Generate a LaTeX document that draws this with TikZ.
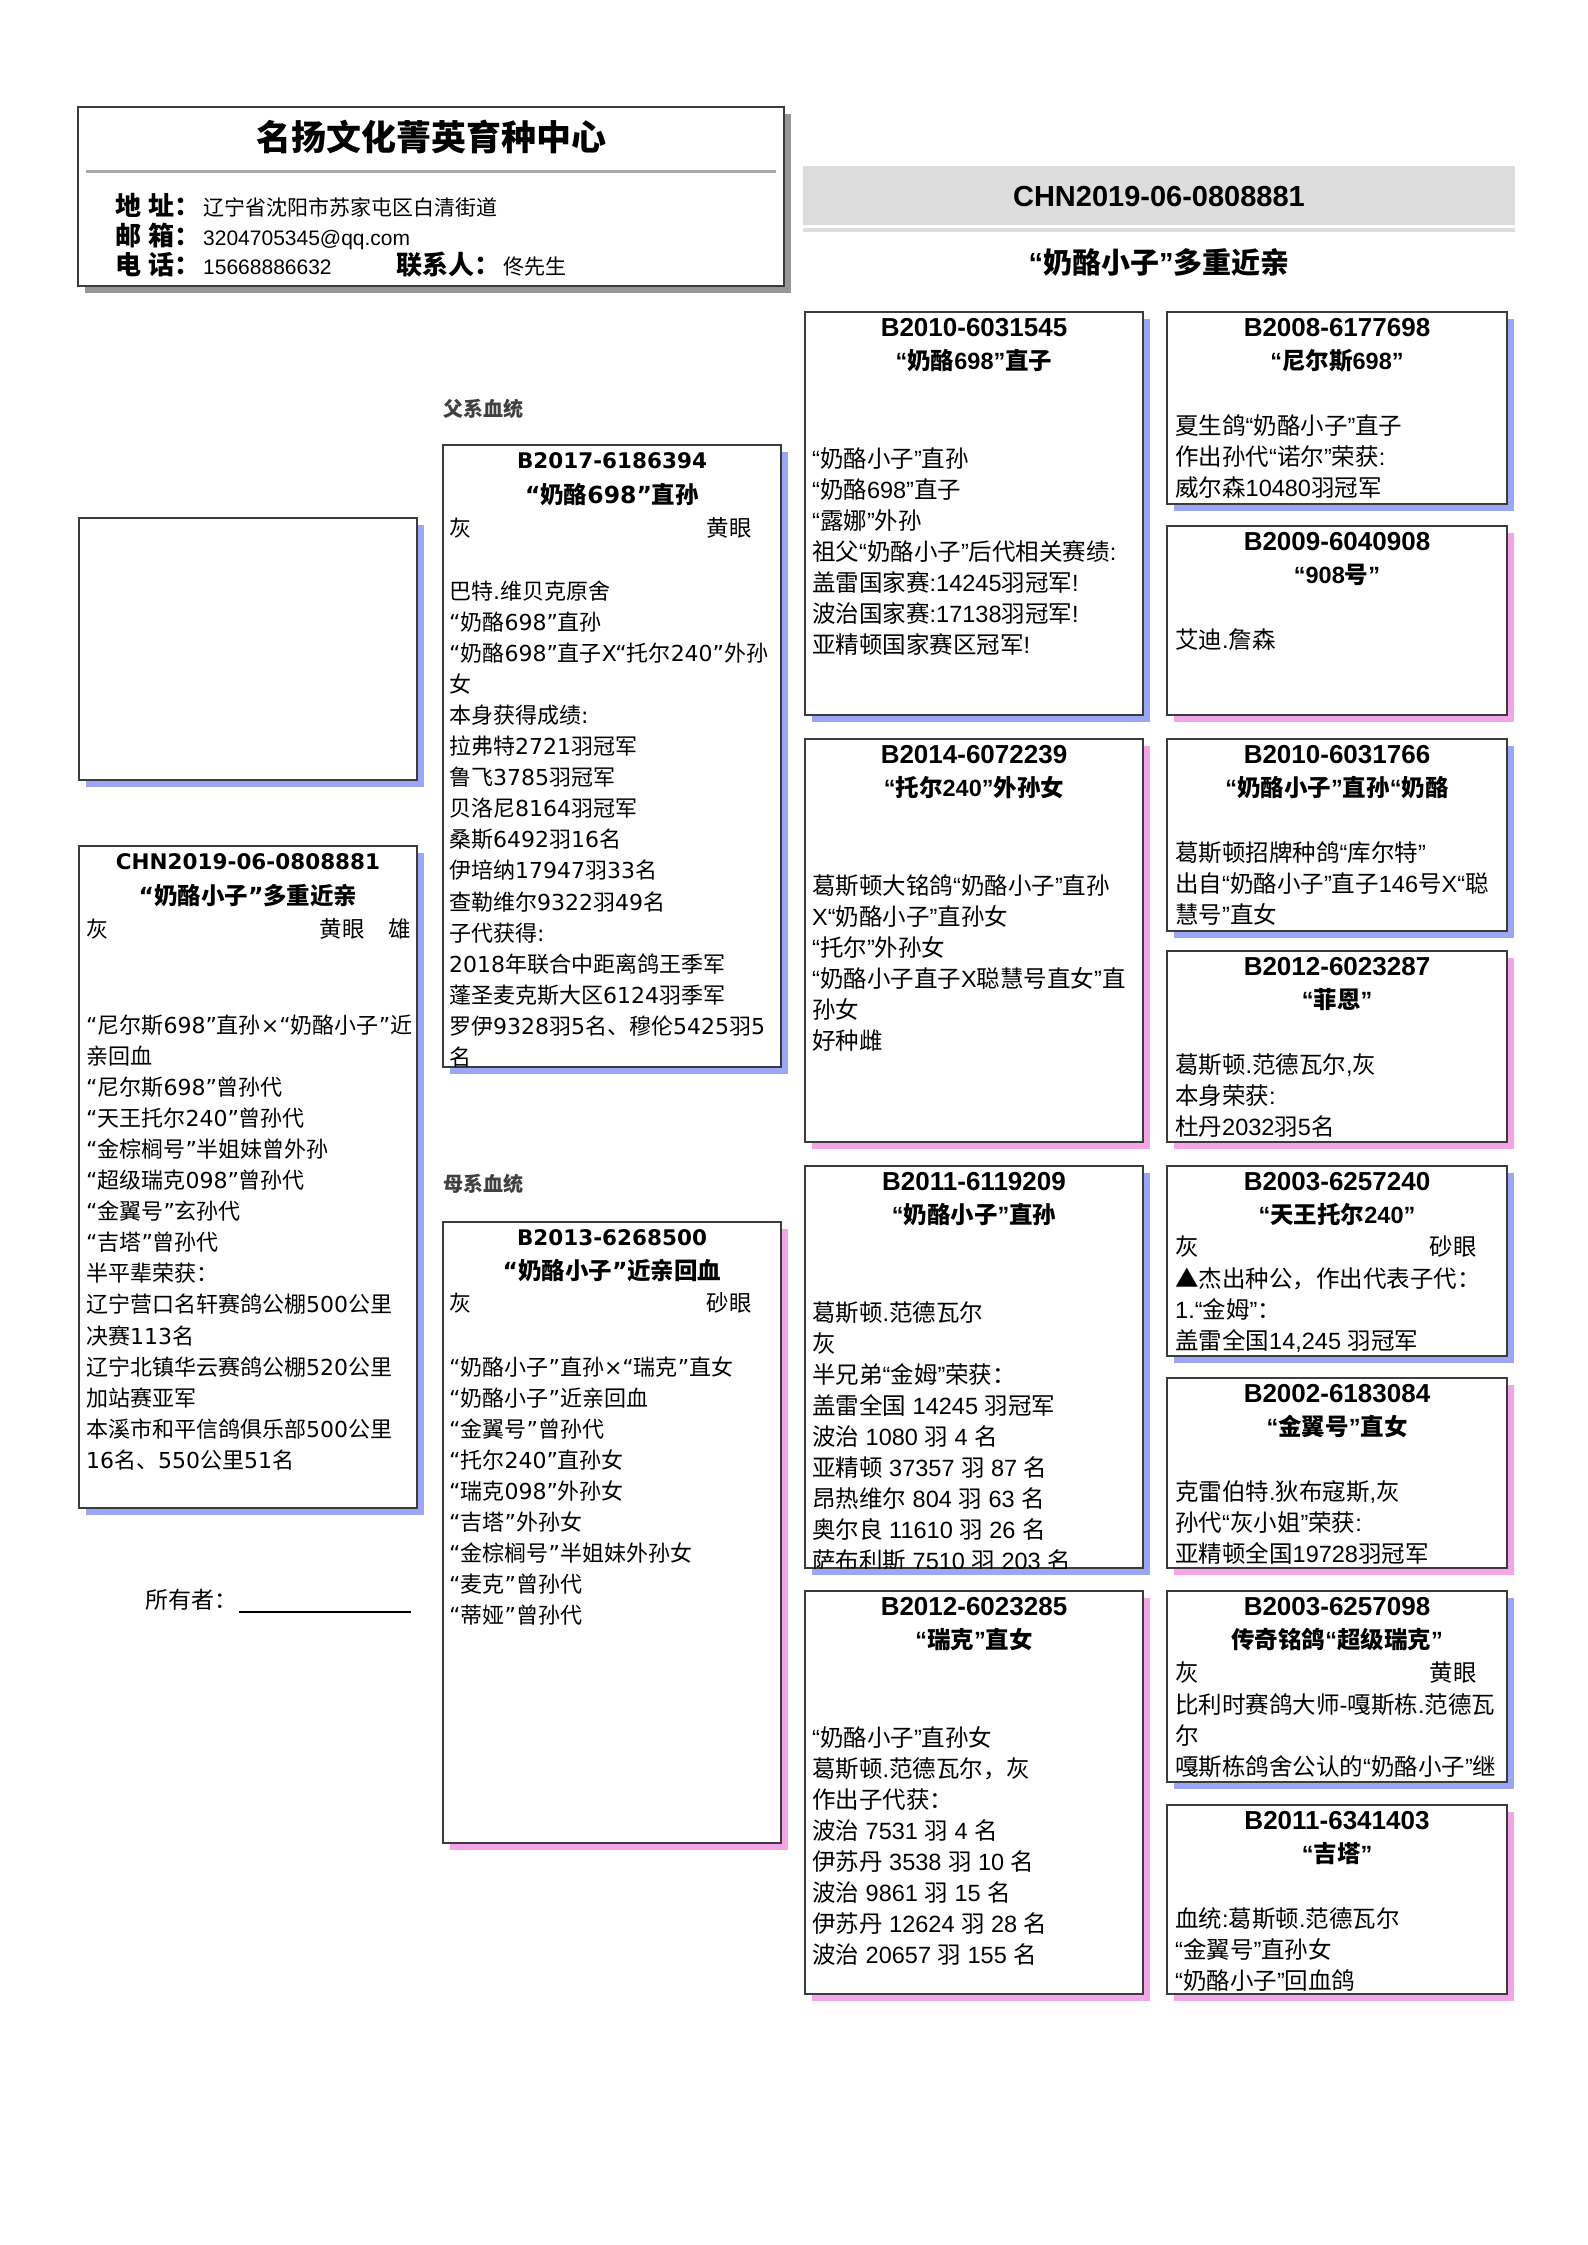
\documentclass[tikz,border=0pt]{standalone}
\usepackage{fontspec}
\setmainfont{Liberation Sans}
\newfontfamily\latA{Liberation Sans}
\newfontfamily\latB{DejaVu Sans}
\newfontfamily\cjkf{Noto Sans CJK SC}
\def\latsel{\latA}
\newcommand\wideL{\def\latsel{\latB}\latB}
\XeTeXinterchartokenstate=1
\newXeTeXintercharclass\CJKcls
\newcount\cjkc
\cjkc="4E00
\loop\XeTeXcharclass\cjkc=\CJKcls\ifnum\cjkc<"9FFF\advance\cjkc by 1\repeat
\cjkc="3000
\loop\XeTeXcharclass\cjkc=\CJKcls\ifnum\cjkc<"303F\advance\cjkc by 1\repeat
\cjkc="FF00
\loop\XeTeXcharclass\cjkc=\CJKcls\ifnum\cjkc<"FFEF\advance\cjkc by 1\repeat
\XeTeXcharclass"25B2=\CJKcls
\XeTeXinterchartoks 0 \CJKcls = {\cjkf}
\XeTeXinterchartoks 4095 \CJKcls = {\cjkf}
\XeTeXinterchartoks \CJKcls 0 = {\latsel}
\XeTeXinterchartoks \CJKcls 4095 = {\latsel}

\definecolor{boxline}{RGB}{60,60,60}
\definecolor{shblue}{RGB}{155,166,245}
\definecolor{shpink}{RGB}{245,164,232}
\definecolor{shgray}{RGB}{150,150,150}
\definecolor{bandgray}{RGB}{221,221,221}
\definecolor{sepgray}{RGB}{170,170,170}
\definecolor{labgray}{RGB}{64,64,64}

\tikzset{
  boxst/.style={draw=boxline, line width=1.5pt, fill=white, inner sep=0pt, outer sep=0pt, anchor=north west},
  idA/.style={font=\bfseries\fontsize{26}{30}\selectfont, anchor=base, inner sep=0pt},
  nmA/.style={font=\bfseries\fontsize{23.5}{28}\selectfont, anchor=base, inner sep=0pt},
  txA/.style={font=\fontsize{23.5}{28}\selectfont, anchor=base west, inner sep=0pt},
  txAr/.style={font=\fontsize{23.5}{28}\selectfont, anchor=base east, inner sep=0pt},
  idB/.style={font=\wideL\bfseries\fontsize{21.5}{26}\selectfont, anchor=base, inner sep=0pt},
  nmB/.style={font=\wideL\bfseries\fontsize{23.5}{28}\selectfont, anchor=base, inner sep=0pt},
  txB/.style={font=\wideL\fontsize{22}{28}\selectfont, anchor=base west, inner sep=0pt},
  txBr/.style={font=\wideL\fontsize{22.5}{28}\selectfont, anchor=base east, inner sep=0pt},
  htitle/.style={font=\bfseries\fontsize{35}{40}\selectfont, anchor=base, inner sep=0pt},
  hlab/.style={font=\bfseries\fontsize{26}{30}\selectfont, anchor=base west, inner sep=0pt},
  hval/.style={font=\fontsize{21}{25}\selectfont, anchor=base west, inner sep=0pt},
  bigT/.style={font=\bfseries\fontsize{29}{34}\selectfont, anchor=base, inner sep=0pt},
  seclab/.style={font=\bfseries\fontsize{20}{24}\selectfont, text=labgray, anchor=base west, inner sep=0pt},
  own/.style={font=\fontsize{23}{28}\selectfont, anchor=base west, inner sep=0pt},
  bandst/.style={fill=bandgray, inner sep=0pt, outer sep=0pt, anchor=north west},
}

\newcommand\pedbox[6]{%
  \fill[#6] ({#2+7},{#3+7}) rectangle ({#4+7},{#5+7});
  \node[boxst, minimum width={(#4-#2)*1pt}, minimum height={(#5-#3)*1pt}] (#1) at (#2,#3) {};
}
\newcommand\pedlines[6]{%
  \foreach \lineT [count=\li] in {#6}{%
    \node[#2] (#1-\li) at (#3,{#4+(\li-1)*#5}) {\lineT};
  }%
}
\newcommand\headA[5]{%
  \node[idA] (#1id) at (#2,{#3+24}) {#4};
  \node[nmA] (#1nm) at (#2,{#3+57}) {#5};
}

\begin{document}
\begin{tikzpicture}[x=1pt,y=-1pt]
\useasboundingbox (0,0) rectangle (1587,2245);
\fill[white] (0,0) rectangle (1587,2245);

% ---------- header box ----------
\fill[shgray] (85,114) rectangle (791,293);
\node[boxst, minimum width=706pt, minimum height=179pt] (hdr) at (78,107) {};
\coordinate (sepL) at (86,172);
\coordinate (sepR) at (776,172);
\draw[sepgray, line width=3pt] (sepL) -- (sepR);
\node[htitle] (title) at (431,151) {名扬文化菁英育种中心};
\node[hlab] (lab1) at (115,215) {地 址：};
\node[hval] (val1) at (203,215) {辽宁省沈阳市苏家屯区白清街道};
\node[hlab] (lab2) at (115,245) {邮 箱：};
\node[hval] (val2) at (203,245) {3204705345@qq.com};
\node[hlab] (lab3) at (115,274) {电 话：};
\node[hval] (val3) at (203,274) {15668886632};
\node[hlab] (lab4) at (396,274) {联系人：};
\node[hval] (val4) at (503,274) {佟先生};

% ---------- top right band ----------
\node[bandst, minimum width=712pt, minimum height=59pt] (band) at (803,166) {};
\node[bandst, minimum width=712pt, minimum height=4pt] (band2) at (803,228) {};
\node[bigT] (cid) at (1159,207) {CHN2019-06-0808881};
\node[bigT] (csub) at (1159,273) {“奶酪小子”多重近亲};

% ---------- left column ----------
\pedbox{photo}{79}{518}{417}{780}{shblue}
\pedbox{subj}{79}{846}{417}{1508}{shblue}
\begin{scope}
\clip (79,846) rectangle (417,1508);
\node[idB] (subjid) at (248,869) {CHN2019-06-0808881};
\node[nmB] (subjnm) at (248,904) {“奶酪小子”多重近亲};
\node[txB] (subjc) at (86,937) {灰};
\node[txBr] (subje) at (365,937) {黄眼};
\node[txBr] (subjs) at (411,937) {雄};
\pedlines{subj}{txB}{86}{1033}{31.1}{“尼尔斯698”直孙×“奶酪小子”近, 亲回血, “尼尔斯698”曾孙代, “天王托尔240”曾孙代, “金棕榈号”半姐妹曾外孙, “超级瑞克098”曾孙代, “金翼号”玄孙代, “吉塔”曾孙代, 半平辈荣获：, 辽宁营口名轩赛鸽公棚500公里, 决赛113名, 辽宁北镇华云赛鸽公棚520公里, 加站赛亚军, 本溪市和平信鸽俱乐部500公里, 16名、550公里51名}
\end{scope}
\node[own] (owner) at (145,1608) {所有者：};
\coordinate (ulA) at (239,1612);
\coordinate (ulB) at (411,1612);
\draw[line width=1.2pt] (ulA) -- (ulB);

% ---------- sire ----------
\node[seclab] (patlab) at (443,416) {父系血统};
\pedbox{sire}{443}{445}{781}{1067}{shblue}
\begin{scope}
\clip (443,445) rectangle (781,1067);
\node[idB] (sireid) at (612,468) {B2017-6186394};
\node[nmB] (sirenm) at (612,503) {“奶酪698”直孙};
\node[txB] (sirec) at (449,536) {灰};
\node[txBr] (siree) at (752,536) {黄眼};
\pedlines{sire}{txB}{449}{599}{31.1}{巴特.维贝克原舍, “奶酪698”直孙, “奶酪698”直子X“托尔240”外孙, 女, 本身获得成绩:, 拉弗特2721羽冠军, 鲁飞3785羽冠军, 贝洛尼8164羽冠军, 桑斯6492羽16名, 伊培纳17947羽33名, 查勒维尔9322羽49名, 子代获得:, 2018年联合中距离鸽王季军, 蓬圣麦克斯大区6124羽季军, 罗伊9328羽5名、穆伦5425羽5, 名}
\end{scope}

% ---------- dam ----------
\node[seclab] (matlab) at (443,1191) {母系血统};
\pedbox{dam}{443}{1222}{781}{1843}{shpink}
\begin{scope}
\clip (443,1222) rectangle (781,1843);
\node[idB] (damid) at (612,1245) {B2013-6268500};
\node[nmB] (damnm) at (612,1279) {“奶酪小子”近亲回血};
\node[txB] (damc) at (449,1311) {灰};
\node[txBr] (dame) at (752,1311) {砂眼};
\pedlines{dam}{txB}{449}{1375}{31.1}{“奶酪小子”直孙×“瑞克”直女, “奶酪小子”近亲回血, “金翼号”曾孙代, “托尔240”直孙女, “瑞克098”外孙女, “吉塔”外孙女, “金棕榈号”半姐妹外孙女, “麦克”曾孙代, “蒂娅”曾孙代}
\end{scope}

% ---------- column 3 ----------
\pedbox{c3a}{805}{312}{1143}{715}{shblue}
\begin{scope}
\clip (805,312) rectangle (1143,715);
\headA{c3a}{974}{312}{B2010-6031545}{“奶酪698”直子}
\pedlines{c3a}{txA}{812}{467}{31.1}{“奶酪小子”直孙, “奶酪698”直子, “露娜”外孙, 祖父“奶酪小子”后代相关赛绩:, 盖雷国家赛:14245羽冠军!, 波治国家赛:17138羽冠军!, 亚精顿国家赛区冠军!}
\end{scope}

\pedbox{c3b}{805}{739}{1143}{1142}{shpink}
\begin{scope}
\clip (805,739) rectangle (1143,1142);
\headA{c3b}{974}{739}{B2014-6072239}{“托尔240”外孙女}
\pedlines{c3b}{txA}{812}{894}{31.1}{葛斯顿大铭鸽“奶酪小子”直孙, X“奶酪小子”直孙女, “托尔”外孙女, “奶酪小子直子X聪慧号直女”直, 孙女, 好种雌}
\end{scope}

\pedbox{c3c}{805}{1166}{1143}{1568}{shblue}
\begin{scope}
\clip (805,1166) rectangle (1143,1568);
\headA{c3c}{974}{1166}{B2011-6119209}{“奶酪小子”直孙}
\pedlines{c3c}{txA}{812}{1321}{31.1}{葛斯顿.范德瓦尔, 灰, 半兄弟“金姆”荣获：, 盖雷全国 14245 羽冠军, 波治 1080 羽 4 名, 亚精顿 37357 羽 87 名, 昂热维尔 804 羽 63 名, 奥尔良 11610 羽 26 名, 萨布利斯 7510 羽 203 名}
\end{scope}

\pedbox{c3d}{805}{1591}{1143}{1994}{shpink}
\begin{scope}
\clip (805,1591) rectangle (1143,1994);
\headA{c3d}{974}{1591}{B2012-6023285}{“瑞克”直女}
\pedlines{c3d}{txA}{812}{1746}{31.1}{“奶酪小子”直孙女, 葛斯顿.范德瓦尔，灰, 作出子代获：, 波治 7531 羽 4 名, 伊苏丹 3538 羽 10 名, 波治 9861 羽 15 名, 伊苏丹 12624 羽 28 名, 波治 20657 羽 155 名}
\end{scope}

% ---------- column 4 ----------
\pedbox{c4a}{1167}{312}{1507}{504}{shblue}
\begin{scope}
\clip (1167,312) rectangle (1507,504);
\headA{c4a}{1337}{312}{B2008-6177698}{“尼尔斯698”}
\pedlines{c4a}{txA}{1175}{434}{31.1}{夏生鸽“奶酪小子”直子, 作出孙代“诺尔”荣获:, 威尔森10480羽冠军}
\end{scope}

\pedbox{c4b}{1167}{526}{1507}{715}{shpink}
\begin{scope}
\clip (1167,526) rectangle (1507,715);
\headA{c4b}{1337}{526}{B2009-6040908}{“908号”}
\pedlines{c4b}{txA}{1175}{648}{31.1}{艾迪.詹森}
\end{scope}

\pedbox{c4c}{1167}{739}{1507}{931}{shblue}
\begin{scope}
\clip (1167,739) rectangle (1507,931);
\headA{c4c}{1337}{739}{B2010-6031766}{“奶酪小子”直孙“奶酪}
\pedlines{c4c}{txA}{1175}{861}{31.1}{葛斯顿招牌种鸽“库尔特”, 出自“奶酪小子”直子146号X“聪, 慧号”直女}
\end{scope}

\pedbox{c4d}{1167}{951}{1507}{1142}{shpink}
\begin{scope}
\clip (1167,951) rectangle (1507,1142);
\headA{c4d}{1337}{951}{B2012-6023287}{“菲恩”}
\pedlines{c4d}{txA}{1175}{1073}{31.1}{{葛斯顿.范德瓦尔,灰}, 本身荣获:, 杜丹2032羽5名}
\end{scope}

\pedbox{c4e}{1167}{1166}{1507}{1356}{shblue}
\begin{scope}
\clip (1167,1166) rectangle (1507,1356);
\headA{c4e}{1337}{1166}{B2003-6257240}{“天王托尔240”}
\node[txA] (c4ec) at (1175,1255) {灰};
\node[txAr] (c4ee) at (1477,1255) {砂眼};
\pedlines{c4e}{txA}{1175}{1287}{31.1}{▲杰出种公，作出代表子代：, 1.“金姆”：, {盖雷全国14,245 羽冠军}}
\end{scope}

\pedbox{c4f}{1167}{1378}{1507}{1568}{shpink}
\begin{scope}
\clip (1167,1378) rectangle (1507,1568);
\headA{c4f}{1337}{1378}{B2002-6183084}{“金翼号”直女}
\pedlines{c4f}{txA}{1175}{1500}{31.1}{{克雷伯特.狄布寇斯,灰}, 孙代“灰小姐”荣获:, 亚精顿全国19728羽冠军}
\end{scope}

\pedbox{c4g}{1167}{1591}{1507}{1782}{shblue}
\begin{scope}
\clip (1167,1591) rectangle (1507,1782);
\headA{c4g}{1337}{1591}{B2003-6257098}{传奇铭鸽“超级瑞克”}
\node[txA] (c4gc) at (1175,1681) {灰};
\node[txAr] (c4ge) at (1477,1681) {黄眼};
\pedlines{c4g}{txA}{1175}{1713}{31.1}{比利时赛鸽大师-嘎斯栋.范德瓦, 尔, 嘎斯栋鸽舍公认的“奶酪小子”继}
\end{scope}

\pedbox{c4h}{1167}{1805}{1507}{1994}{shpink}
\begin{scope}
\clip (1167,1805) rectangle (1507,1994);
\headA{c4h}{1337}{1805}{B2011-6341403}{“吉塔”}
\pedlines{c4h}{txA}{1175}{1927}{31.1}{血统:葛斯顿.范德瓦尔, “金翼号”直孙女, “奶酪小子”回血鸽}
\end{scope}

\end{tikzpicture}
\end{document}
